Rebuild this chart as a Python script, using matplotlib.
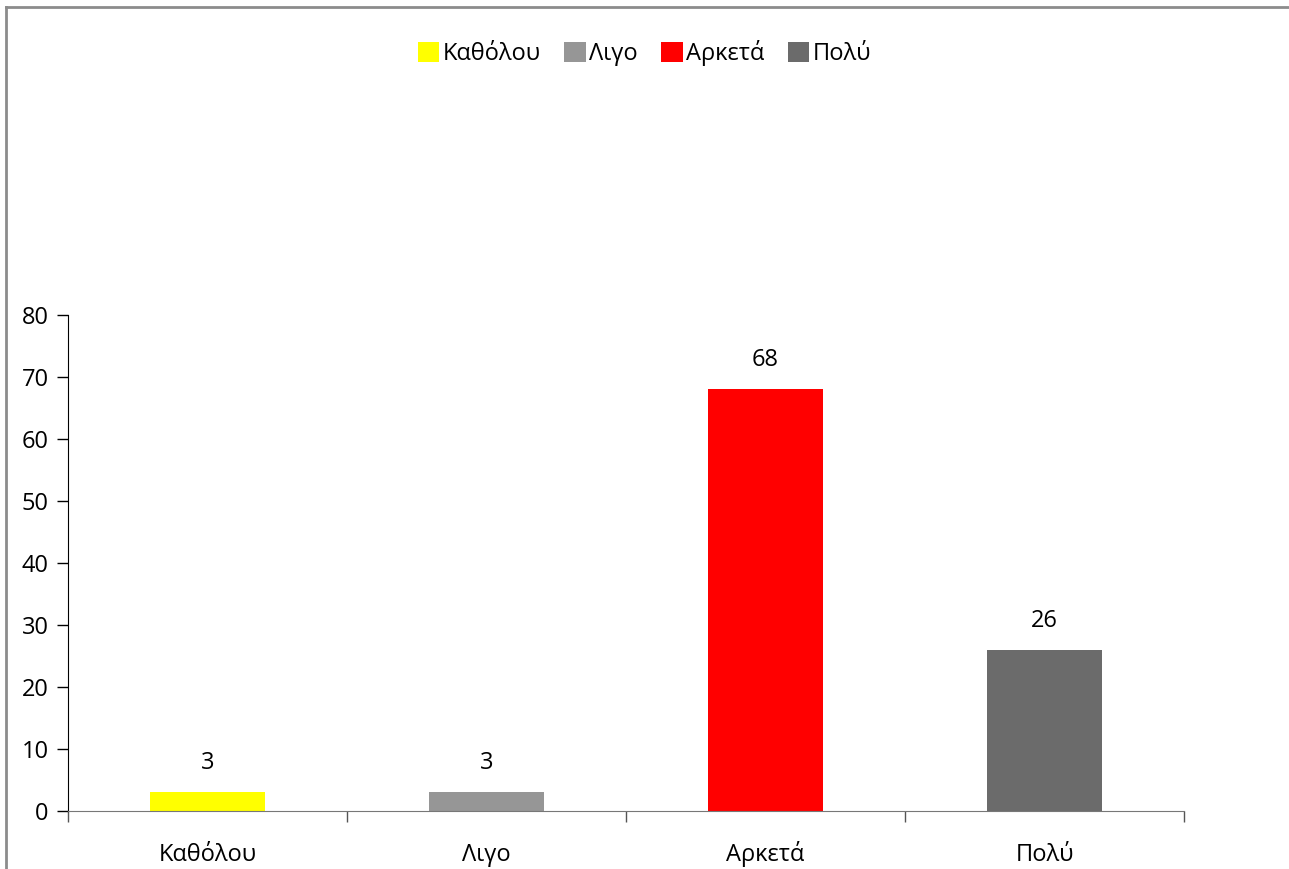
import matplotlib
matplotlib.use("Agg")
import matplotlib.pyplot as plt
from matplotlib.lines import Line2D
from matplotlib.patches import Patch

plt.rcParams["font.family"] = ["Open Sans", "DejaVu Sans"]

# responses per answer category
categories = ["Καθόλου", "Λιγο", "Αρκετά", "Πολύ"]
values = [3, 3, 68, 26]
colors = ["#FFFF00", "#969696", "#FF0000", "#6B6B6B"]
y_ticks = [0, 10, 20, 30, 40, 50, 60, 70, 80]

FS = 17

fig = plt.figure(figsize=(12.89, 8.69), dpi=100)
ax = fig.add_axes([0.0528, 0.0667, 0.8658, 0.5708])

x = list(range(len(categories)))
bars = ax.bar(x, values, width=0.41, color=colors, zorder=2)

for xi, v in zip(x, values):
    ax.annotate(f"{v}", (xi, v), xytext=(0, 21), textcoords="offset points",
                ha="center", va="center", fontsize=FS)

ax.set_xlim(-0.5, len(categories) - 0.5)
ax.set_ylim(0, 80)
ax.set_yticks(y_ticks)
ax.tick_params(axis="y", direction="out", length=8, width=1, labelsize=FS, pad=6)

# category labels at centres, tick marks at the category boundaries
ax.set_xticks(x)
ax.set_xticklabels(categories)
ax.tick_params(axis="x", which="major", length=0, labelsize=FS, pad=36)
for lbl in ax.get_xticklabels():
    lbl.set_verticalalignment("baseline")
ax.set_xticks([i - 0.5 for i in range(len(categories) + 1)], minor=True)
ax.tick_params(axis="x", which="minor", direction="out", length=8, width=1, color="#555555")

for side in ("top", "right"):
    ax.spines[side].set_visible(False)
ax.spines["left"].set_color("black")
ax.spines["bottom"].set_color("#777777")

handles = [Patch(facecolor=c, edgecolor="none") for c in colors]
fig.legend(handles, categories, loc="center", bbox_to_anchor=(0.5, 0.939), ncol=4,
           frameon=False, fontsize=FS, handlelength=0.9, handleheight=0.9,
           handletextpad=0.15, columnspacing=1.0)

# chart-area frame (top and left edges)
fig.add_artist(Line2D([0.005, 1.0], [0.9925, 0.9925], color="#8C8C8C", lw=2,
                      transform=fig.transFigure))
fig.add_artist(Line2D([0.005, 0.005], [0.0, 0.9925], color="#8C8C8C", lw=2,
                      transform=fig.transFigure))

fig.savefig("out.png", dpi=100)
